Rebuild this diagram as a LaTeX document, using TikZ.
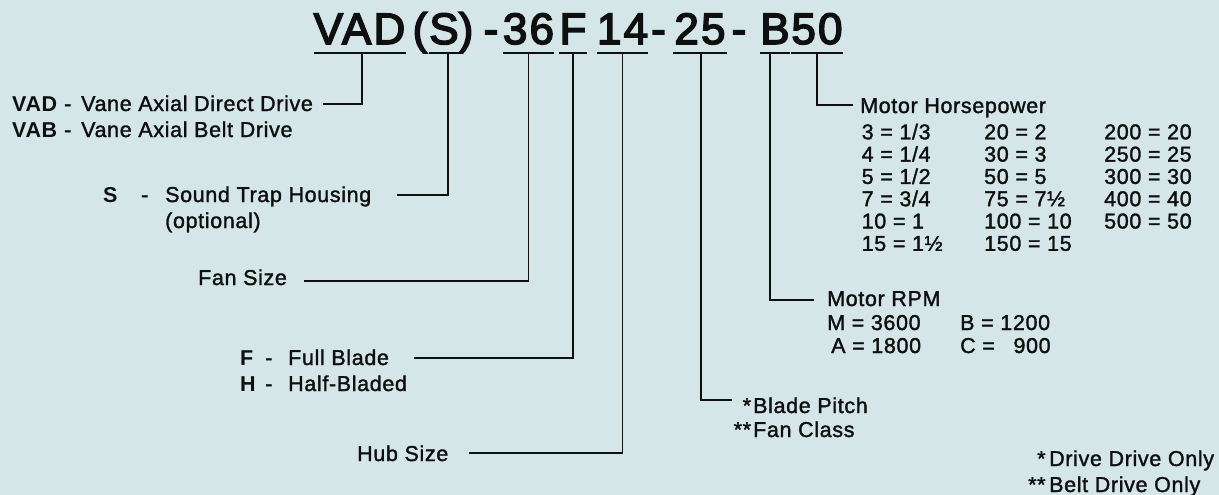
\documentclass[tikz,border=0pt]{standalone}
\usepackage{fontspec}
\setmainfont{Liberation Sans}[LetterSpace=3,UprightFeatures={FakeBold=1.5}]
\newfontfamily\titlefont{Liberation Sans}[LetterSpace=5,FakeBold=3.5]
\definecolor{bg}{RGB}{212,230,232}
\definecolor{ink}{RGB}{15,15,15}
\tikzset{
  lab/.style={anchor=base west, inner sep=0pt, font=\fontsize{21.5}{26}\selectfont, text=ink},
  key/.style={lab, font=\fontsize{21.5}{26}\selectfont\bfseries},
  ttl/.style={anchor=base, inner sep=0pt, font=\titlefont\fontsize{44}{50}\selectfont, text=ink},
  grp/.style={ttl, text depth=9pt},
  conn/.style={draw=ink, line width=1.9pt},
}
\begin{document}
\begin{tikzpicture}[x=1pt,y=-1pt]
\useasboundingbox (0,0) rectangle (1219,495);
\fill[bg] (0,0) rectangle (1219,495);

% ---- title ----
\node[grp, minimum width=89] (gVAD) at (359.5,44) {VAD};
\node[ttl] (lpar) at (420,44) {(};
\node[grp, minimum width=24] (gS) at (444,44) {S};
\node[ttl] (rpar) at (466,44) {)};
\node[ttl] (dashA) at (491,44) {-};
\node[grp, minimum width=47] (g36) at (528.5,44) {36};
\node[grp, minimum width=22] (gF) at (573,44) {F};
\node[grp, minimum width=47] (g14) at (622.5,44) {14};
\node[ttl] (dashB) at (658.5,44) {-};
\node[grp, minimum width=54] (g25) at (700,44) {25};
\node[ttl] (dashC) at (739,44) {-};
\node[grp, minimum width=17] (gB) at (775,44) {B};
\node[grp, minimum width=46] (g50) at (817,44) {50};

% ---- connector ends ----
\coordinate (cVAD) at (323,104);
\coordinate (cS) at (397,195);
\coordinate (c36) at (304,281);
\coordinate (cF) at (414,358);
\coordinate (c14) at (469,453);
\coordinate (c25) at (732,400);
\coordinate (cB) at (814,300);
\coordinate (c50) at (853,105);

% ---- connectors ----
\draw[conn] (gVAD.south west) -- (gVAD.south east) ([xshift=2.5pt]gVAD.south) |- (cVAD);
\draw[conn] (gS.south west) -- (gS.south east) ([xshift=4pt]gS.south) |- (cS);
\draw[conn] (g36.south west) -- (g36.south east) (g36.south) |- (c36);
\draw[conn] (gF.south west) -- (gF.south east) (gF.south) |- (cF);
\draw[conn] (g14.south west) -- (g14.south east) (g14.south) |- (c14);
\draw[conn] (g25.south west) -- (g25.south east) ([xshift=1pt]g25.south) |- (c25);
\draw[conn] (gB.south west) -- (gB.south east) ([xshift=-5pt]gB.south) |- (cB);
\draw[conn] (g50.south west) -- (g50.south east) (g50.south) |- (c50);

% ---- left labels ----
\node[key] (kVAD) at (12,111) {VAD};
\node[lab] (hVAD) at (64,111) {-};
\node[lab] (tVAD) at (81,111) {Vane Axial Direct Drive};
\node[key] (kVAB) at (12,137) {VAB};
\node[lab] (hVAB) at (64,137) {-};
\node[lab] (tVAB) at (81,137) {Vane Axial Belt Drive};

\node[key] (kS) at (103,202) {S};
\node[lab] (hS) at (141,202) {-};
\node[lab] (tS) at (165,202) {Sound Trap Housing};
\node[lab] (tS2) at (165,228) {(optional)};

\node[lab] (tFan) at (198,285) {Fan Size};

\node[key] (kF) at (240,365) {F};
\node[lab] (hF) at (265,365) {-};
\node[lab] (tF) at (288,365) {Full Blade};
\node[key] (kH) at (240,391) {H};
\node[lab] (hH) at (265,391) {-};
\node[lab] (tH) at (288,391) {Half-Bladed};

\node[lab] (tHub) at (357,461) {Hub Size};

% ---- blade pitch ----
\node[lab] (sBP) at (742.5,413) {*};
\node[lab] (tBP) at (753,413) {Blade Pitch};
\node[lab] (sFC) at (733.5,437) {**};
\node[lab] (tFC) at (753,437) {Fan Class};

% ---- motor rpm ----
\node[lab] (tRPM) at (827,306) {Motor RPM};
\node[lab] (rM) at (827,330) {M = 3600};
\node[lab] (rA) at (831,353) {A = 1800};
\node[lab] (rB) at (960,330) {B = 1200};
\node[lab] (rC) at (960,353) {C = \phantom{1}900};

% ---- motor horsepower ----
\node[lab] (tHP) at (860,113) {Motor Horsepower};
\node[lab] (h11) at (861.5,139.3) {3 = 1/3};
\node[lab] (h12) at (861.5,161.6) {4 = 1/4};
\node[lab] (h13) at (861.5,183.9) {5 = 1/2};
\node[lab] (h14) at (861.5,206.2) {7 = 3/4};
\node[lab] (h15) at (861.5,228.5) {10 = 1};
\node[lab] (h16) at (861.5,250.8) {15 = 1½};
\node[lab] (h21) at (984,139.3) {20 = 2};
\node[lab] (h22) at (984,161.6) {30 = 3};
\node[lab] (h23) at (984,183.9) {50 = 5};
\node[lab] (h24) at (984,206.2) {75 = 7½};
\node[lab] (h25) at (984,228.5) {100 = 10};
\node[lab] (h26) at (984,250.8) {150 = 15};
\node[lab] (h31) at (1104,139.3) {200 = 20};
\node[lab] (h32) at (1104,161.6) {250 = 25};
\node[lab] (h33) at (1104,183.9) {300 = 30};
\node[lab] (h34) at (1104,206.2) {400 = 40};
\node[lab] (h35) at (1104,228.5) {500 = 50};

% ---- footnotes ----
\node[lab] (sN1) at (1037,466) {*};
\node[lab] (tN1) at (1049,466) {Drive Drive Only};
\node[lab] (sN2) at (1028,492) {**};
\node[lab] (tN2) at (1049,492) {Belt Drive Only};
\end{tikzpicture}
\end{document}
